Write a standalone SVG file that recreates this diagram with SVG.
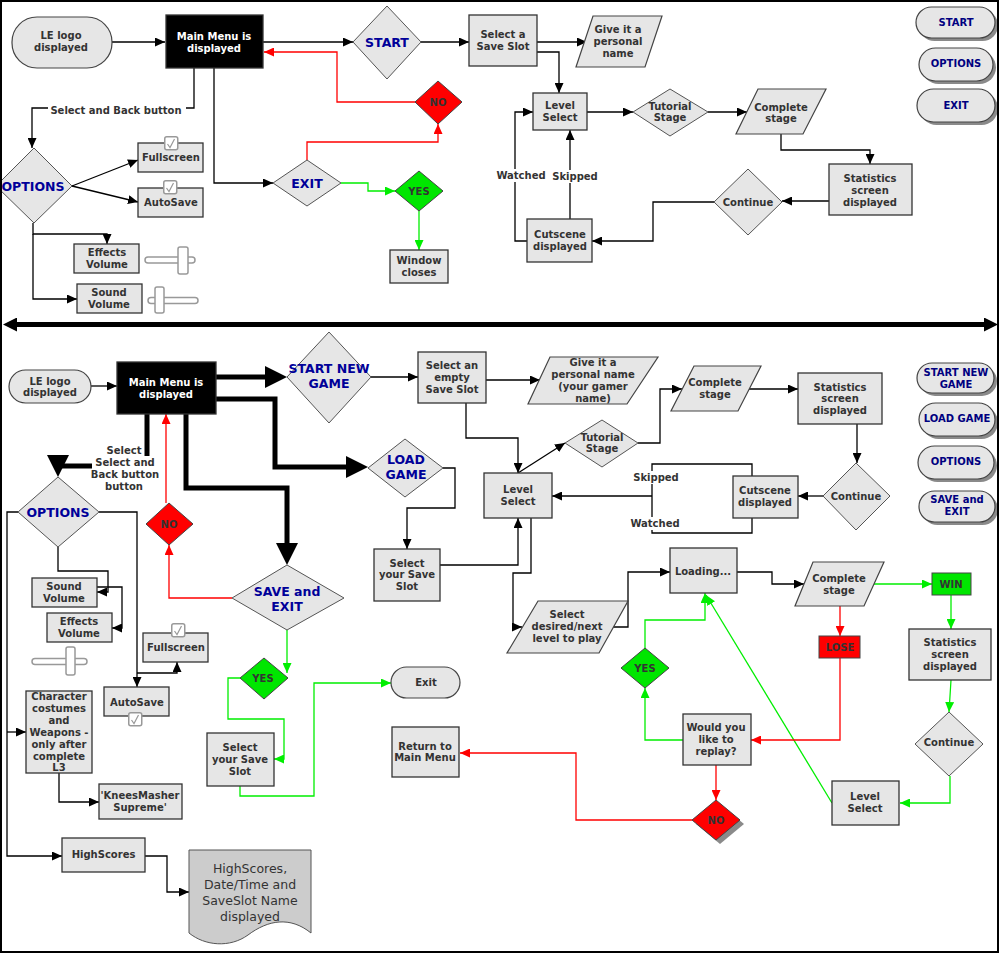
<svg xmlns="http://www.w3.org/2000/svg" width="1000" height="954" viewBox="0 0 1000 954">
<style>
.bx{fill:#e6e6e6;stroke:#333;stroke-width:1.3}
.dm{fill:#e6e6e6;stroke:#555;stroke-width:1}
.pl{fill:#e6e6e6;stroke:#444;stroke-width:1.2}
.pill{fill:#e6e6e6;stroke:#444;stroke-width:1.2}
.sh{fill:#8a8a8a}
.red{fill:#ff0000;stroke:#444;stroke-width:1}
.grn{fill:#00e600;stroke:#444;stroke-width:1}
.blk{fill:#000;stroke:#333;stroke-width:1.3}
.doc{fill:#cccccc;stroke:#555;stroke-width:1}
.sl{fill:#fff;stroke:#999;stroke-width:1.5}
.wb{fill:#fff;stroke:none}
text{font-family:"DejaVu Sans","Liberation Sans",sans-serif;font-weight:bold;font-size:10px;fill:#333;text-anchor:middle}
text.bl{font-size:12.5px;fill:#000099}
text.pt{fill:#000080}
text.wt{fill:#fff}
text.nt{font-weight:normal;font-size:12.5px}
.k{fill:none;stroke:#000;stroke-width:1.3;marker-end:url(#ak)}
.kn{fill:none;stroke:#000;stroke-width:1.3}
.r{fill:none;stroke:#f00;stroke-width:1.3;marker-end:url(#ar)}
.g{fill:none;stroke:#00ee00;stroke-width:1.3;marker-end:url(#ag)}
.tk{fill:none;stroke:#000;stroke-width:5;marker-end:url(#at)}
.tkn{fill:none;stroke:#000;stroke-width:5}
</style>
<defs>
<marker id="ak" markerUnits="userSpaceOnUse" markerWidth="10" markerHeight="9" refX="10" refY="4.5" orient="auto"><path d="M0,0L10,4.5L0,9z" fill="#000"/></marker>
<marker id="ar" markerUnits="userSpaceOnUse" markerWidth="10" markerHeight="9" refX="10" refY="4.5" orient="auto"><path d="M0,0L10,4.5L0,9z" fill="#f00"/></marker>
<marker id="ag" markerUnits="userSpaceOnUse" markerWidth="10" markerHeight="9" refX="10" refY="4.5" orient="auto"><path d="M0,0L10,4.5L0,9z" fill="#00ee00"/></marker>
<marker id="at" markerUnits="userSpaceOnUse" markerWidth="22" markerHeight="22" refX="8" refY="11" orient="auto"><path d="M0,0L22,11L0,22z" fill="#000"/></marker>
<marker id="ad" markerUnits="userSpaceOnUse" markerWidth="14" markerHeight="14" refX="5" refY="7" orient="auto-start-reverse"><path d="M0,0L14,7L0,14z" fill="#000"/></marker>
<g id="chk"><rect x="0.75" y="0.75" width="13" height="13" rx="2" fill="#fff" stroke="#999" stroke-width="1.5"/><path d="M3.5,8 L6,11.5 L10.5,3" fill="none" stroke="#999" stroke-width="1.2"/></g>
</defs>
<rect x="0" y="0" width="1000" height="954" fill="#fff"/>

<g id="connectors">
<!-- top -->
<path class="k" d="M112,42 H165"/>
<path class="k" d="M263,42 H353"/>
<path class="r" d="M415,102 H337 V52 H264"/>
<path class="r" d="M307,160 V142 H438 V124"/>
<path class="k" d="M194,68 V108 H32 V148"/>
<path class="k" d="M214,68 V183 H273"/>
<path class="k" d="M72,186 L138,160"/>
<path class="k" d="M72,186 L138,202"/>
<path class="k" d="M33,223 V234 H107 V244"/>
<path class="k" d="M33,234 V299 H77"/>
<path class="g" d="M341,183 H368 V191 H395"/>
<path class="g" d="M419,211 V250"/>
<path class="k" d="M421,42 H469"/>
<path class="k" d="M537,42 H587"/>
<path class="k" d="M537,52 H559 V93"/>
<path class="k" d="M587,112 H633"/>
<path class="k" d="M708,112 H747"/>
<path class="k" d="M781,134 V150 H870 V164"/>
<path class="k" d="M829,201 H782"/>
<path class="k" d="M714,202 H653 V241 H592"/>
<path class="k" d="M527,241 H515 V112 H533"/>
<path class="k" d="M570,219 V130"/>
<!-- divider -->
<path d="M12,324.5 H989" fill="none" stroke="#000" stroke-width="5" marker-start="url(#ad)" marker-end="url(#ad)"/>
<!-- bottom -->
<path class="k" d="M91,386 H117"/>
<path class="tk" d="M216,377 H273"/>
<path class="tk" d="M216,399 H275 V467 H354"/>
<path class="tk" d="M186,414 V488 H287 V551"/>
<path class="tkn" d="M147,414 V466 H60"/>
<path d="M47,455 L69,455 L58,477 Z" fill="#000"/>
<path class="k" d="M58,547 V571 H108 V592 H97"/>
<path class="k" d="M97,587 H122 V628 H112"/>
<path class="k" d="M99,512 H137 V687"/>
<path class="k" d="M137,673 H177 V662"/>
<path class="k" d="M18,512 H7 V856 H62"/>
<path class="k" d="M7,732 H26"/>
<path class="k" d="M59,773 V802 H99"/>
<path class="k" d="M145,856 H167 V892 H189"/>
<path class="r" d="M232,598 H169 V545"/>
<path class="r" d="M166,503 V414"/>
<path class="g" d="M287,630 V673"/>
<path class="g" d="M240,678 H228 V719 H284 V759 H274"/>
<path class="g" d="M240,786 V796 H314 V683 H391"/>
<path class="k" d="M371,377 H418"/>
<path class="k" d="M486,380 H540"/>
<path class="k" d="M466,403 V438 H518 V473"/>
<path class="k" d="M518,473 L565,443"/>
<path class="k" d="M638,443 H660 V389 H682"/>
<path class="k" d="M749,389 H798"/>
<path class="k" d="M857,424 V463"/>
<path class="k" d="M823,496 H798"/>
<path class="kn" d="M752,476 V464 H652 V533 H752 V518"/>
<path class="k" d="M652,496 H552"/>
<path class="k" d="M443,468 H455 V508 H407 V549"/>
<path class="k" d="M440,565 H518 V518"/>
<path class="k" d="M531,518 V573 H513 V627 H522"/>
<path class="k" d="M613,627 H628 V572 H670"/>
<path class="k" d="M737,572 H772 V584 H804"/>
<path class="g" d="M874,584 H932"/>
<path class="g" d="M951,595 V629"/>
<path class="g" d="M951,680 L949,712"/>
<path class="g" d="M950,776 V803 H900"/>
<path class="g" d="M832,803 L706,595"/>
<path class="r" d="M840,606 V636"/>
<path class="r" d="M840,658 V740 H751"/>
<path class="g" d="M683,740 H645 V688"/>
<path class="g" d="M645,648 V620 H705 V593"/>
<path class="r" d="M716,765 V800" stroke-width="1"/>
<path class="r" d="M692,820 H576 V753 H460"/>
<!-- connector labels -->
<rect class="wb" x="48" y="102" width="138" height="14"/>
<text x="116" y="113.5">Select and Back button</text>
<rect class="wb" x="494" y="169" width="54" height="13"/>
<text x="521" y="178.5">Watched</text>
<rect class="wb" x="550" y="170" width="52" height="13"/>
<text x="575" y="179.5">Skipped</text>
<rect class="wb" x="632" y="471" width="50" height="13"/>
<text x="656" y="480.5">Skipped</text>
<rect class="wb" x="629" y="517" width="54" height="13"/>
<text x="655" y="526.5">Watched</text>
<rect class="wb" x="92" y="456" width="66" height="36"/>
<text x="124" y="453.5">Select</text>
<text x="125" y="465.5">Select and</text>
<text x="125" y="477.5">Back button</text>
<text x="124" y="489.5">button</text>
</g>

<!-- ===== TOP HALF ===== -->
<g id="t_logo"><rect class="pill" x="12" y="17" width="100" height="51" rx="25"/><text x="61" y="39">LE logo</text><text x="61" y="51">displayed</text></g>
<g id="t_main"><rect class="blk" x="166" y="15" width="97" height="53"/><text class="wt" x="214" y="40">Main Menu is</text><text class="wt" x="214" y="52">displayed</text></g>
<g id="t_start"><polygon class="dm" points="353,42 387,6 421,42 387,79"/><text class="bl" x="387" y="46.5">START</text></g>
<g id="t_no"><polygon class="red" points="415,102 438,81 462,102 438,124"/><text x="438" y="106">NO</text></g>
<g id="t_exit"><polygon class="dm" points="273,183 307,160 341,183 307,206"/><text class="bl" x="307" y="187.5">EXIT</text></g>
<g id="t_yes"><polygon class="grn" points="395,191 419,171 443,191 419,211"/><text x="419" y="194.5">YES</text></g>
<g id="t_window"><rect class="bx" x="390" y="250" width="58" height="33"/><text x="419" y="263.5">Window</text><text x="419" y="275.5">closes</text></g>
<g id="t_options"><polygon class="dm" points="-4,186 34,148 72,186 34,223"/><text class="bl" x="33" y="190.5">OPTIONS</text></g>
<g id="t_fullscreen"><rect class="bx" x="138" y="143" width="65" height="29"/><text x="171" y="161">Fullscreen</text><use href="#chk" x="164" y="136"/></g>
<g id="t_autosave"><rect class="bx" x="138" y="188" width="65" height="29"/><text x="171" y="206">AutoSave</text><use href="#chk" x="163" y="180"/></g>
<g id="t_effects"><rect class="bx" x="74" y="244" width="65" height="29"/><text x="107" y="255.5">Effects</text><text x="107" y="267.5">Volume</text>
<rect class="sl" x="145" y="257" width="50" height="6" rx="3"/><rect class="sl" x="178" y="247" width="10" height="27" rx="2"/></g>
<g id="t_sound"><rect class="bx" x="77" y="284" width="65" height="29"/><text x="109" y="295.5">Sound</text><text x="109" y="307.5">Volume</text>
<rect class="sl" x="148" y="297.5" width="50" height="6" rx="3"/><rect class="sl" x="155" y="287" width="9" height="26" rx="2"/></g>
<g id="t_saveslot"><rect class="bx" x="469" y="15" width="68" height="51"/><text x="503" y="37.5">Select a</text><text x="503" y="49.5">Save Slot</text></g>
<g id="t_name"><polygon class="pl" points="593,16 662,16 645,67 576,67"/><text x="618" y="33">Give it a</text><text x="618" y="45">personal</text><text x="618" y="57">name</text></g>
<g id="t_level"><rect class="bx" x="533" y="93" width="54" height="37"/><text x="560" y="109">Level</text><text x="560" y="121">Select</text></g>
<g id="t_tutorial"><polygon class="dm" points="633,112 670,89 708,112 670,136"/><text x="670" y="109.5">Tutorial</text><text x="670" y="121">Stage</text></g>
<g id="t_complete"><polygon class="pl" points="758,89 826,89 803,134 736,134"/><text x="781" y="110.5">Complete</text><text x="781" y="122">stage</text></g>
<g id="t_stats"><rect class="bx" x="829" y="164" width="83" height="51"/><text x="870" y="181.5">Statistics</text><text x="870" y="193.5">screen</text><text x="870" y="205.5">displayed</text></g>
<g id="t_continue"><polygon class="dm" points="714,202 748,169 782,202 748,235"/><text x="748" y="205.5">Continue</text></g>
<g id="t_cutscene"><rect class="bx" x="527" y="219" width="65" height="43"/><text x="560" y="237.5">Cutscene</text><text x="560" y="249.5">displayed</text></g>
<g id="t_btn_start"><rect class="sh" x="919" y="10" width="79" height="31" rx="15.5"/><rect class="pill" x="916" y="7" width="79" height="31" rx="15.5"/><text class="pt" x="956" y="25.5">START</text></g>
<g id="t_btn_options"><rect class="sh" x="922" y="51" width="74" height="33" rx="16.5"/><rect class="pill" x="919" y="48" width="74" height="33" rx="16.5"/><text class="pt" x="956" y="66.5">OPTIONS</text></g>
<g id="t_btn_exit"><rect class="sh" x="920" y="92" width="78" height="33" rx="16.5"/><rect class="pill" x="917" y="89" width="78" height="33" rx="16.5"/><text class="pt" x="956" y="108.5">EXIT</text></g>

<!-- ===== BOTTOM HALF ===== -->
<g id="b_logo"><rect class="pill" x="9" y="370" width="82" height="33" rx="16.5"/><text x="50" y="384.5">LE logo</text><text x="50" y="396">displayed</text></g>
<g id="b_main"><rect class="blk" x="117" y="362" width="99" height="52"/><text class="wt" x="166" y="385.5">Main Menu is</text><text class="wt" x="166" y="397.5">displayed</text></g>
<g id="b_startnew"><polygon class="dm" points="287,377 329,332 371,377 329,423"/><text class="bl" x="329" y="372.5">START NEW</text><text class="bl" x="329" y="388">GAME</text></g>
<g id="b_loadgame"><polygon class="dm" points="368,468 405,439 443,468 405,497"/><text class="bl" x="406" y="463.5">LOAD</text><text class="bl" x="406" y="478.5">GAME</text></g>
<g id="b_saveexit"><polygon class="dm" points="232,598 287,565 344,598 287,630"/><text class="bl" x="287" y="595.5">SAVE and</text><text class="bl" x="287" y="610.5">EXIT</text></g>
<g id="b_options"><polygon class="dm" points="18,512 58,477 99,512 58,547"/><text class="bl" x="58" y="516.5">OPTIONS</text></g>
<g id="b_no1"><polygon class="red" points="146,524 169,503 193,524 169,545"/><text x="169" y="527.5">NO</text></g>
<g id="b_yes1"><polygon class="grn" points="240,678 264,658 288,678 264,699"/><text x="263" y="681.5">YES</text></g>
<g id="b_sound"><rect class="bx" x="32" y="578" width="65" height="29"/><text x="64" y="589.5">Sound</text><text x="64" y="601.5">Volume</text></g>
<g id="b_effects"><rect class="bx" x="47" y="613" width="65" height="29"/><text x="79" y="624.5">Effects</text><text x="79" y="636.5">Volume</text>
<rect class="sl" x="32" y="658.5" width="55" height="6" rx="3"/><rect class="sl" x="66" y="647" width="9" height="28" rx="2"/></g>
<g id="b_fullscreen"><rect class="bx" x="143" y="633" width="65" height="29"/><text x="176" y="651">Fullscreen</text><use href="#chk" x="171" y="623"/></g>
<g id="b_autosave"><rect class="bx" x="104" y="687" width="65" height="29"/><text x="137" y="705.5">AutoSave</text><use href="#chk" x="128" y="712"/></g>
<g id="b_character"><rect class="bx" x="26" y="691" width="66" height="82"/>
<text x="59" y="699.5">Character</text><text x="59" y="711.5">costumes</text><text x="59" y="723.5">and</text><text x="59" y="735.5">Weapons -</text><text x="59" y="747.5">only after</text><text x="59" y="759.5">complete</text><text x="59" y="771">L3</text></g>
<g id="b_knees"><rect class="bx" x="99" y="784" width="83" height="35"/><text x="140" y="798.5">'KneesMasher</text><text x="140" y="810.5">Supreme'</text></g>
<g id="b_highscores"><rect class="bx" x="62" y="838" width="83" height="34"/><text x="103.5" y="857.5">HighScores</text></g>
<g id="b_hsdoc"><path class="doc" d="M189,850 H311 V933 C290,916 268,920 248,935 C230,948 205,946 189,933 Z"/>
<text class="nt" x="250" y="872.5">HighScores,</text><text class="nt" x="250" y="888.5">Date/Time and</text><text class="nt" x="250" y="904.5">SaveSlot Name</text><text class="nt" x="250" y="920.5">displayed</text></g>
<g id="b_selectsave2"><rect class="bx" x="207" y="733" width="67" height="53"/><text x="240" y="750.5">Select</text><text x="240" y="762.5">your Save</text><text x="240" y="775">Slot</text></g>
<g id="b_exit"><rect class="pill" x="391" y="667" width="69" height="31" rx="15.5"/><text x="426" y="686">Exit</text></g>
<g id="b_emptyslot"><rect class="bx" x="418" y="352" width="68" height="51"/><text x="452" y="368.5">Select an</text><text x="452" y="380.5">empty</text><text x="452" y="392.5">Save Slot</text></g>
<g id="b_name"><polygon class="pl" points="550,357 658,357 627,404 528,404"/><text x="593" y="366">Give it a</text><text x="593" y="378">personal name</text><text x="593" y="390">(your gamer</text><text x="593" y="402">name)</text></g>
<g id="b_tutorial"><polygon class="dm" points="565,443 602,420 638,443 602,467"/><text x="602" y="440.5">Tutorial</text><text x="602" y="452">Stage</text></g>
<g id="b_level1"><rect class="bx" x="484" y="473" width="68" height="45"/><text x="518" y="492.5">Level</text><text x="518" y="504.5">Select</text></g>
<g id="b_complete1"><polygon class="pl" points="694,366 761,366 738,411 671,411"/><text x="715" y="385.5">Complete</text><text x="715" y="397.5">stage</text></g>
<g id="b_stats1"><rect class="bx" x="798" y="373" width="84" height="51"/><text x="840" y="390.5">Statistics</text><text x="840" y="402">screen</text><text x="840" y="414">displayed</text></g>
<g id="b_continue1"><polygon class="dm" points="823,496 856,463 890,496 856,530"/><text x="856" y="499.5">Continue</text></g>
<g id="b_cutscene"><rect class="bx" x="733" y="476" width="65" height="42"/><text x="765" y="493.5">Cutscene</text><text x="765" y="505.5">displayed</text></g>
<g id="b_selectsave"><rect class="bx" x="374" y="549" width="66" height="52"/><text x="407" y="566.5">Select</text><text x="407" y="578">your Save</text><text x="407" y="589.5">Slot</text></g>
<g id="b_desired"><polygon class="pl" points="538,601 628,601 599,653 507,653"/><text x="567" y="617.5">Select</text><text x="567" y="629.5">desired/next</text><text x="567" y="641.5">level to play</text></g>
<g id="b_loading"><rect class="bx" x="670" y="548" width="67" height="45"/><text x="703" y="574.5">Loading...</text></g>
<g id="b_complete2"><polygon class="pl" points="813,562 884,562 864,606 795,606"/><text x="839" y="581.5">Complete</text><text x="839" y="594">stage</text></g>
<g id="b_win"><rect class="grn" x="932" y="573" width="39" height="22"/><text x="951" y="587.5">WIN</text></g>
<g id="b_lose"><rect class="red" x="819" y="636" width="41" height="22"/><text x="840" y="650.5">LOSE</text></g>
<g id="b_stats2"><rect class="bx" x="909" y="629" width="82" height="51"/><text x="950" y="645.5">Statistics</text><text x="950" y="657.5">screen</text><text x="950" y="670">displayed</text></g>
<g id="b_continue2"><polygon class="dm" points="915,744 949,712 983,744 949,776"/><text x="949" y="745.5">Continue</text></g>
<g id="b_level2"><rect class="bx" x="832" y="781" width="67" height="44"/><text x="865" y="799.5">Level</text><text x="865" y="811.5">Select</text></g>
<g id="b_yes2"><polygon class="grn" points="621,668 645,648 669,668 645,688"/><text x="645" y="671.5">YES</text></g>
<g id="b_replay"><rect class="bx" x="683" y="714" width="68" height="51"/><text x="716" y="730.5">Would you</text><text x="716" y="742.5">like to</text><text x="716" y="754.5">replay?</text></g>
<g id="b_no2"><polygon class="sh" points="696,824 720,804 744,824 720,844"/><polygon class="red" points="692,820 716,800 740,820 716,840"/><text x="716" y="823.5">NO</text></g>
<g id="b_return"><rect class="bx" x="392" y="727" width="67" height="50"/><text x="425" y="749.5">Return to</text><text x="425" y="761">Main Menu</text></g>
<g id="b_btn_startnew"><rect class="sh" x="920" y="366" width="77" height="30" rx="15"/><rect class="pill" x="917" y="363" width="77" height="30" rx="15"/><text class="pt" x="956" y="375.5">START NEW</text><text class="pt" x="956" y="387.5">GAME</text></g>
<g id="b_btn_load"><rect class="sh" x="922" y="406" width="76" height="33" rx="16.5"/><rect class="pill" x="919" y="403" width="76" height="33" rx="16.5"/><text class="pt" x="957" y="422">LOAD GAME</text></g>
<g id="b_btn_options"><rect class="sh" x="921" y="449" width="76" height="33" rx="16.5"/><rect class="pill" x="918" y="446" width="76" height="33" rx="16.5"/><text class="pt" x="956" y="465">OPTIONS</text></g>
<g id="b_btn_save"><rect class="sh" x="922" y="494" width="76" height="31" rx="15.5"/><rect class="pill" x="919" y="491" width="76" height="31" rx="15.5"/><text class="pt" x="957" y="502.5">SAVE and</text><text class="pt" x="957" y="515">EXIT</text></g>

<rect x="1" y="1" width="997" height="951" fill="none" stroke="#000" stroke-width="2"/>
</svg>
